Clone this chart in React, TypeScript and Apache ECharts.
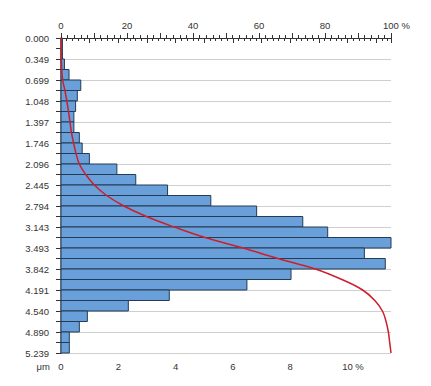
import React, { useEffect, useRef } from "react";
import * as echarts from "echarts";

// Histogram bin values (% per bin), from top (0.000 µm) to bottom (5.239 µm)
const binValues = [
  0.05, 0.05, 0.12, 0.28, 0.69, 0.57, 0.51, 0.45, 0.45, 0.64,
  0.74, 0.99, 1.95, 2.61, 3.72, 5.23, 6.83, 8.44, 9.31, 11.52,
  10.59, 11.32, 8.03, 6.49, 3.78, 2.35, 0.92, 0.64, 0.29, 0.29,
];

// Cumulative curve readings (%) at each bin boundary
const cumulative = [
  0, 0.05, 0.1, 0.22, 0.5, 1.19, 1.76, 2.27, 2.72, 3.17, 3.81,
  4.55, 5.54, 7.49, 10.1, 13.82, 19.05, 25.88, 34.32, 43.63, 55.17,
  65.76, 77.08, 85.11, 91.4, 95.1, 97.4, 98.5, 99.2, 99.6, 100,
];

// Size tick labels (µm), one per two bin boundaries
const yTickLabels = [
  "0.000", "0.349", "0.699", "1.048", "1.397", "1.746", "2.096", "2.445",
  "2.794", "3.143", "3.493", "3.842", "4.191", "4.540", "4.890", "5.239",
];

const BAR_MAX = 11.52;
const FONT = "Liberation Sans";

export default function App() {
  const ref = useRef<HTMLDivElement>(null);

  useEffect(() => {
    if (!ref.current) return;
    const chart = echarts.init(ref.current, undefined, { renderer: "svg" });
    const textStyle = { fontFamily: FONT, fontSize: 9.5, color: "#333" };
    const pctRich = { a: { ...textStyle, padding: [0, 0, 0, 11] }, b: { ...textStyle } };

    chart.setOption({
      animation: false,
      backgroundColor: "#fff",
      grid: { left: 61, right: 40, top: 38, bottom: 33, containLabel: false },
      xAxis: [
        {
          type: "value",
          position: "bottom",
          min: 0,
          max: BAR_MAX,
          interval: 1,
          axisLine: { show: true, lineStyle: { color: "#333", width: 1 } },
          axisTick: { show: true, length: 5, lineStyle: { color: "#333" } },
          minorTick: { show: true, splitNumber: 5, length: 3, lineStyle: { color: "#333" } },
          splitLine: { show: false },
          axisLabel: {
            ...textStyle,
            margin: 8,
            showMaxLabel: false,
            rich: pctRich,
            formatter: (v: number) => {
              if (Math.abs(v - Math.round(v)) > 1e-6 || Math.round(v) % 2 !== 0) return "";
              if (Math.round(v) === 10) return "{a|10 %}";
              return "{b|" + Math.round(v) + "}";
            },
          },
        },
        {
          type: "value",
          position: "top",
          min: 0,
          max: 100,
          interval: 10,
          axisLine: { show: true, lineStyle: { color: "#333", width: 1 } },
          axisTick: { show: true, length: 5, lineStyle: { color: "#333" } },
          minorTick: { show: true, splitNumber: 5, length: 3, lineStyle: { color: "#333" } },
          splitLine: { show: false },
          axisLabel: {
            ...textStyle,
            margin: 8,
            rich: pctRich,
            formatter: (v: number) => {
              if (Math.round(v) % 20 !== 0) return "";
              if (Math.round(v) === 100) return "{a|100 %}";
              return "{b|" + Math.round(v) + "}";
            },
          },
        },
      ],
      yAxis: [
        {
          type: "value",
          inverse: true,
          min: 0,
          max: 30,
          interval: 2,
          position: "left",
          axisLine: { show: true, lineStyle: { color: "#333", width: 1 } },
          axisTick: { show: true, length: 5, lineStyle: { color: "#333" } },
          minorTick: { show: true, splitNumber: 2, length: 5, lineStyle: { color: "#333" } },
          splitLine: { show: true, lineStyle: { color: "#cfcfcf", width: 1 } },
          axisLabel: {
            ...textStyle,
            margin: 12,
            formatter: (v: number) => yTickLabels[Math.round(v / 2)] ?? "",
          },
        },
        {
          type: "value",
          inverse: true,
          min: 0,
          max: 30,
          interval: 2,
          position: "right",
          axisLine: { show: true, lineStyle: { color: "#9a9a9a", width: 2 } },
          axisTick: { show: false },
          axisLabel: { show: false },
          splitLine: { show: false },
        },
      ],
      series: [
        {
          type: "custom",
          xAxisIndex: 0,
          yAxisIndex: 0,
          encode: { x: 0, y: 1 },
          data: binValues.map((v, i) => [v, i]),
          renderItem: (params: any, api: any) => {
            const v = api.value(0);
            const i = api.value(1);
            const p0 = api.coord([0, i]);
            const p1 = api.coord([v, i + 1]);
            return {
              type: "rect",
              shape: { x: p0[0], y: p0[1], width: p1[0] - p0[0], height: p1[1] - p0[1] },
              style: { fill: "#6aa0da", stroke: "#243a55", lineWidth: 1 },
            };
          },
          z: 2,
        },
        {
          type: "line",
          xAxisIndex: 1,
          yAxisIndex: 0,
          data: cumulative.map((c, i) => [c, i]),
          symbol: "none",
          smooth: 0.4,
          lineStyle: { color: "#cc1f2b", width: 1.5 },
          z: 3,
        },
      ],
      graphic: [
        {
          type: "text",
          x: 50,
          y: 366,
          style: {
            text: "μm",
            fontFamily: FONT,
            fontSize: 9.5,
            fill: "#333",
            textAlign: "right",
            textVerticalAlign: "middle",
          },
        },
      ],
    });
    return () => chart.dispose();
  }, []);

  return (
    <div
      ref={ref}
      style={{ position: "fixed", left: 0, top: 0, width: 431, height: 386 }}
    />
  );
}
